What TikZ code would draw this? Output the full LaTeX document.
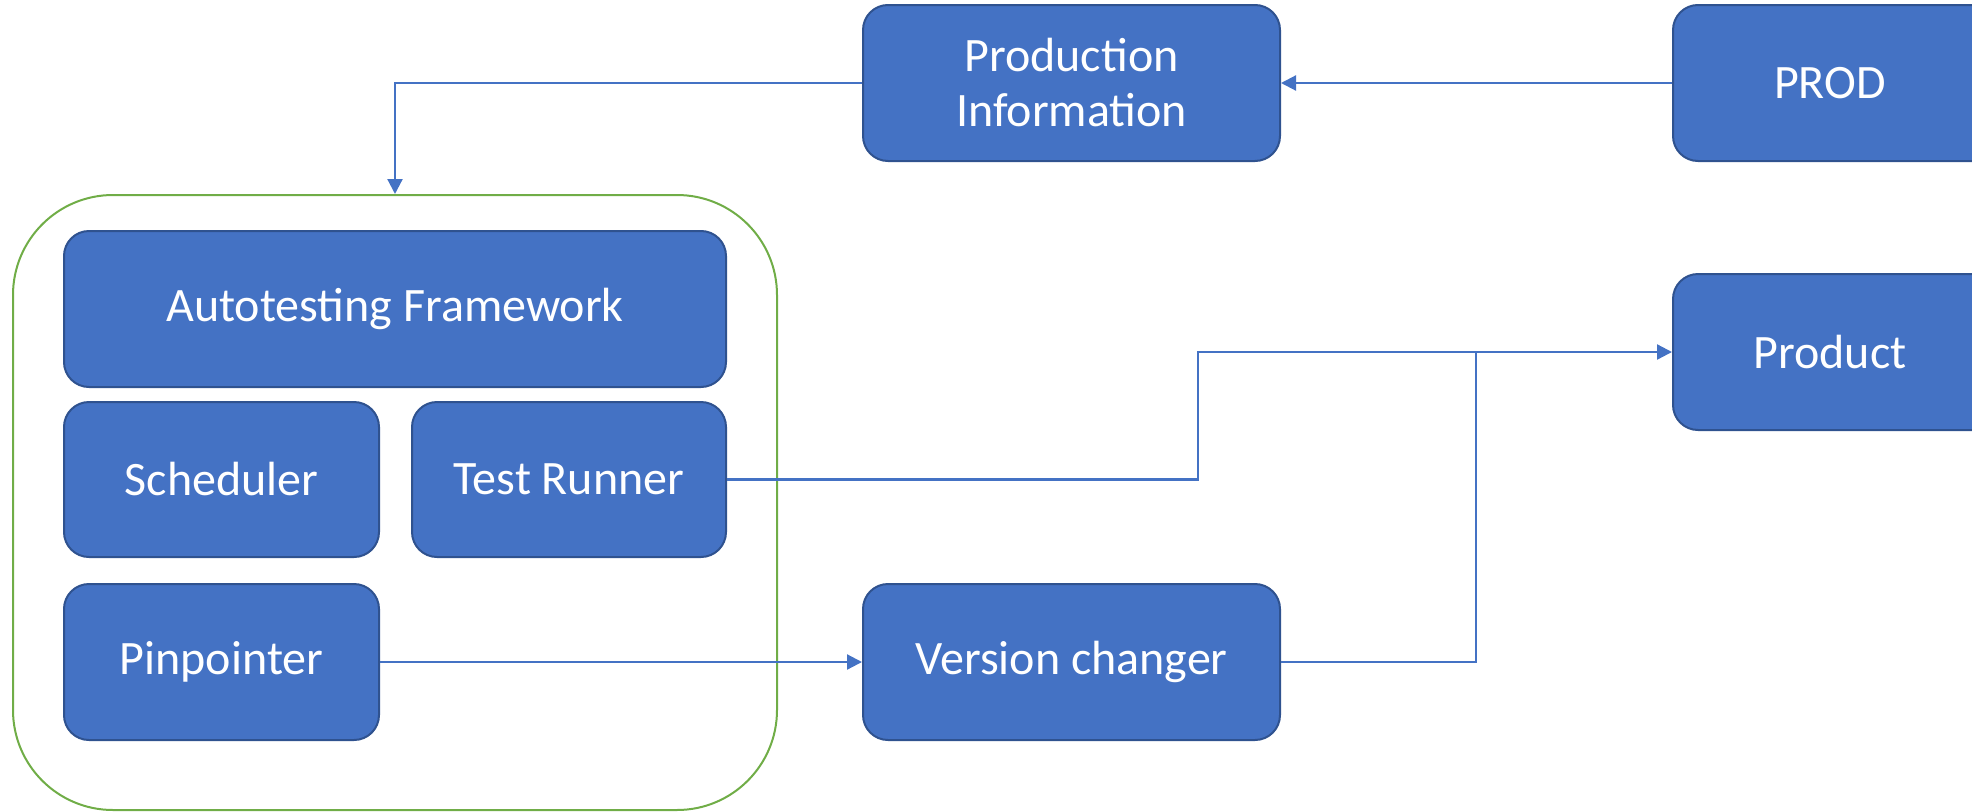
\documentclass[tikz,border=0pt]{standalone}
\usepackage{fontspec}
\setmainfont{Carlito}
\usetikzlibrary{arrows.meta}
\definecolor{boxfill}{HTML}{4472C4}
\definecolor{boxline}{HTML}{2F528F}
\definecolor{grp}{HTML}{70AD47}
\tikzset{
  blk/.style={draw=boxline, fill=boxfill, line width=2pt, rounded corners=25pt,
    text=white, align=center, font=\fontsize{48}{55}\selectfont, inner sep=0pt},
  conn/.style={draw=boxfill, line width=2.2pt},
  arr/.style={conn, -{Triangle[length=15pt,width=15pt]}},
}
\begin{document}
\begin{tikzpicture}[x=1pt,y=-1pt]
\useasboundingbox (0,0) rectangle (1972,811);
\clip (0,0) rectangle (1972,811);
% group container
\node[draw=grp, line width=2pt, rounded corners=100pt, minimum width=764pt, minimum height=615pt, inner sep=0pt] (grp) at (395,502.5) {};
% nodes
\node[blk, minimum width=417pt, minimum height=156pt] (info) at (1071.5,83) {Production\\Information};
\node[blk, minimum width=417pt, minimum height=156pt, text width=417pt] (prod) at (1881.5,83) {\hspace*{-103pt}PROD};
\node[blk, minimum width=417pt, minimum height=156pt, text width=417pt] (product) at (1881.5,352) {\hspace*{-103pt}Product};
\node[blk, minimum width=417pt, minimum height=156pt] (vc) at (1071.5,662) {Version changer};
\node[blk, minimum width=662pt, minimum height=156pt] (atf) at (395,309) {Autotesting Framework};
\node[blk, minimum width=315pt, minimum height=155pt] (sched) at (221.5,479.5) {Scheduler};
\node[blk, minimum width=314pt, minimum height=155pt] (tr) at (569,479.5) {Test Runner};
\node[blk, minimum width=315pt, minimum height=156pt] (pin) at (221.5,662) {Pinpointer};
% connectors
\draw[arr] (info.west) -| (grp.north);
\draw[arr] (prod.west) -- (info.east);
\coordinate (tj) at (1198,352);
\draw[arr] (tr.east) -| (tj) -- (product.west);
\coordinate (vj) at (1476,352);
\draw[conn] (vc.east) -| (vj);
\draw[arr] (pin.east) -- (vc.west);
\end{tikzpicture}
\end{document}
